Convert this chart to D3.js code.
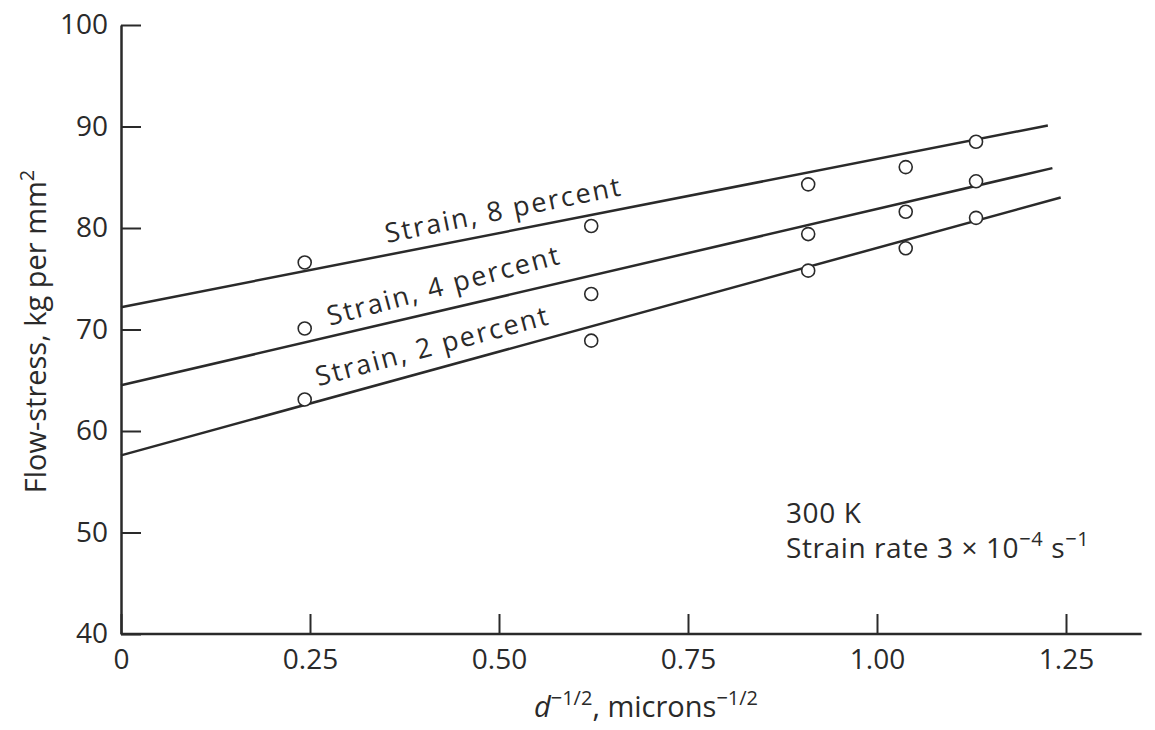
<!DOCTYPE html>
<html><head><meta charset="utf-8">
<script src="https://cdn.jsdelivr.net/npm/d3@7"></script>
<style>
body{margin:0;background:#fff;}
text{font-family:"Open Sans","Noto Sans",sans-serif;fill:#2a2a2a;}
</style></head>
<body>
<svg id="chart" width="1155" height="730"></svg>
<script>
// ---- data ----
const xTicks = [0, 0.25, 0.50, 0.75, 1.00, 1.25];
const xTickLabels = ["0", "0.25", "0.50", "0.75", "1.00", "1.25"];
const yTicks = [40, 50, 60, 70, 80, 90, 100];
const yTickLabels = ["40", "50", "60", "70", "80", "90", "100"];
const seriesNames = ["Strain, 8 percent", "Strain, 4 percent", "Strain, 2 percent"];
const pointX = [0.243, 0.622, 0.909, 1.038, 1.131];
const strain8 = [76.6, 80.2, 84.3, 86.0, 88.5];
const strain4 = [70.1, 73.5, 79.4, 81.6, 84.6];
const strain2 = [63.1, 68.9, 75.8, 78.0, 81.0];
// fitted lines: [x, y] at start and end
const line8 = [[0, 72.2], [1.226, 90.1]];
const line4 = [[0, 64.5], [1.232, 85.9]];
const line2 = [[0, 57.6], [1.243, 83.0]];

const svg = d3.select("#chart");
const x = d3.scaleLinear().domain([0, 1.25]).range([121, 1066]);
const y = d3.scaleLinear().domain([40, 100]).range([634, 25]);
const ink = "#2a2a2a";

// axes
const xAxis = d3.axisBottom(x).tickValues(xTicks)
  .tickFormat((d, i) => xTickLabels[i]).tickSizeInner(-20).tickSizeOuter(0).tickPadding(12);
const gx = svg.append("g").attr("transform", `translate(0,${y(40)})`).call(xAxis);
gx.select(".domain").attr("d", `M${x(0)},0H${x(1.35)}`);
gx.selectAll(".tick line").attr("stroke", ink).attr("stroke-width", 2);
gx.selectAll(".tick text").attr("font-size", 28).attr("fill", ink).attr("dy", "0.9em").attr("y", 10);
gx.select(".domain").attr("stroke", ink).attr("stroke-width", 2.5);

const yAxis = d3.axisLeft(y).tickValues(yTicks)
  .tickFormat((d, i) => yTickLabels[i]).tickSizeInner(-20).tickSizeOuter(0).tickPadding(14);
const gy = svg.append("g").attr("transform", `translate(${x(0)},0)`).call(yAxis);
gy.select(".domain").attr("stroke", ink).attr("stroke-width", 2.5);
gy.selectAll(".tick line").attr("stroke", ink).attr("stroke-width", 2);
gy.selectAll(".tick text").attr("font-size", 28).attr("fill", ink).attr("x", -13);

// fitted lines
const lineGen = d3.line().x(d => x(d[0])).y(d => y(d[1]));
[line8, line4, line2].forEach(l => {
  svg.append("path").attr("d", lineGen(l)).attr("fill", "none")
    .attr("stroke", ink).attr("stroke-width", 2.5);
});

// points
[strain8, strain4, strain2].forEach(vals => {
  svg.append("g").selectAll("circle").data(vals).join("circle")
    .attr("cx", (d, i) => x(pointX[i])).attr("cy", d => y(d))
    .attr("r", 6.5).attr("fill", "#fff").attr("stroke", ink).attr("stroke-width", 1.6);
});

// line labels
function lineVal(l, xv) { return l[0][1] + (l[1][1] - l[0][1]) * (xv - l[0][0]) / (l[1][0] - l[0][0]); }
const labelSpecs = [
  {l: line8, xs: 0.352, off: 12, ang: -11.5},
  {l: line4, xs: 0.276, off: 11, ang: -15},
  {l: line2, xs: 0.261, off: 15, ang: -15}
];
labelSpecs.forEach((s, i) => {
  svg.append("text").attr("font-size", 27).attr("letter-spacing", 2)
    .attr("transform", `translate(${x(s.xs)},${y(lineVal(s.l, s.xs)) - s.off}) rotate(${s.ang})`)
    .text(seriesNames[i]);
});

// axis titles
const yt = svg.append("text").attr("font-size", 29).attr("text-anchor", "middle")
  .attr("transform", `translate(46,${y(69.8)}) rotate(-90)`);
yt.append("tspan").text("Flow-stress, kg per mm");
yt.append("tspan").attr("font-size", 20).attr("dy", -12).text("2");

const xt = svg.append("text").attr("font-size", 29).attr("text-anchor", "middle")
  .attr("x", 646).attr("y", 717);
xt.append("tspan").attr("font-style", "italic").text("d");
xt.append("tspan").attr("font-size", 20).attr("dy", -12).text("−1/2");
xt.append("tspan").attr("dy", 12).text(", microns");
xt.append("tspan").attr("font-size", 20).attr("dy", -12).text("−1/2");

// annotation
svg.append("text").attr("font-size", 28).attr("letter-spacing", 0.6).attr("x", 786).attr("y", 523).text("300 K");
const an = svg.append("text").attr("font-size", 28).attr("letter-spacing", 0.6).attr("x", 786).attr("y", 558);
an.append("tspan").text("Strain rate 3 × 10");
an.append("tspan").attr("font-size", 20).attr("dy", -12).text("−4");
an.append("tspan").attr("dy", 12).text(" s");
an.append("tspan").attr("font-size", 20).attr("dy", -12).text("−1");
</script>
</body></html>
